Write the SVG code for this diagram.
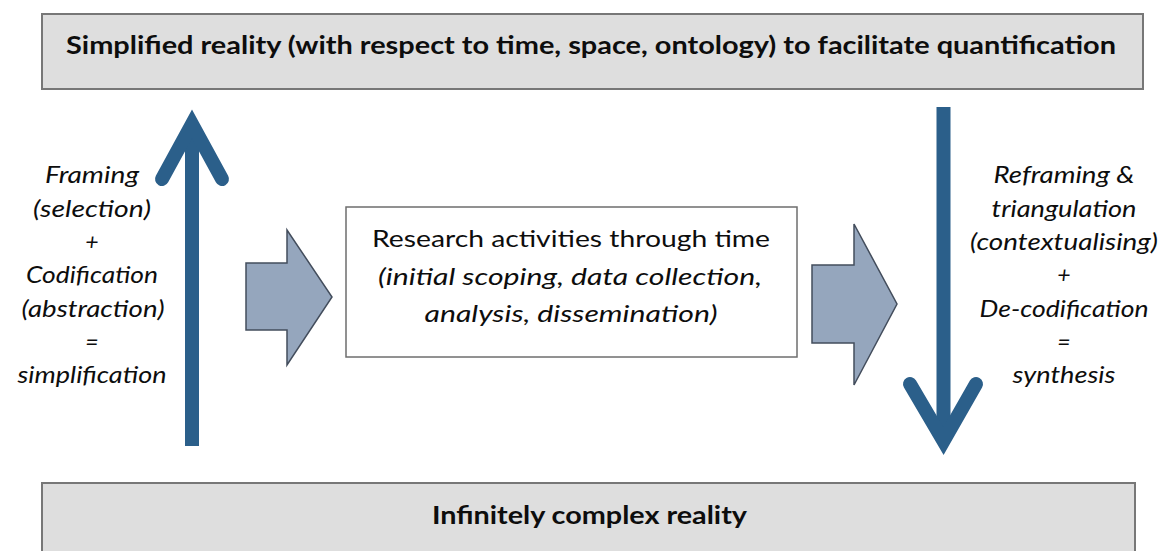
<svg xmlns="http://www.w3.org/2000/svg" width="1162" height="551" viewBox="0 0 1162 551">
  <style>
    .band { fill: #dedede; stroke: #777777; stroke-width: 2; }
    .panel { fill: #ffffff; stroke: #6e6e6e; stroke-width: 1.5; }
    .block { fill: #95a6bd; stroke: #434d5c; stroke-width: 1.5; stroke-linejoin: miter; }
    .shaft { stroke: #2b5f8a; stroke-width: 14; fill: none; stroke-linecap: butt; }
    .head { stroke: #2b5f8a; stroke-width: 14; fill: none; stroke-linecap: round; stroke-linejoin: miter; stroke-miterlimit: 10; }
    text { font-family: Lato, "Liberation Sans", sans-serif; fill: #0d0d0d; text-anchor: middle; }
    .title { font-size: 24px; font-weight: bold; }
    .plain { font-size: 24px; }
    .note { font-size: 23px; font-style: italic; }
  </style>

  <!-- top band -->
  <g id="simplified-reality">
    <rect class="band" x="42" y="14" width="1101" height="75"/>
    <text class="title" x="591" y="54" textLength="1050" lengthAdjust="spacingAndGlyphs">Simplified reality (with respect to time, space, ontology) to facilitate quantification</text>
  </g>

  <!-- bottom band -->
  <g id="complex-reality">
    <rect class="band" x="42" y="483" width="1093" height="80"/>
    <text class="title" x="589.5" y="524" textLength="315" lengthAdjust="spacingAndGlyphs">Infinitely complex reality</text>
  </g>

  <!-- central panel -->
  <g id="research-activities">
    <rect class="panel" x="346" y="207" width="451" height="150"/>
    <text class="plain" x="571" y="247" textLength="398" lengthAdjust="spacingAndGlyphs">Research activities through time</text>
    <text class="note" x="570" y="285" textLength="384" lengthAdjust="spacingAndGlyphs">(initial scoping, data collection,</text>
    <text class="note" x="571" y="322" textLength="293" lengthAdjust="spacingAndGlyphs">analysis, dissemination)</text>
  </g>

  <!-- left caption -->
  <g id="framing-label">
    <text class="note" x="92" y="183" textLength="94" lengthAdjust="spacingAndGlyphs">Framing</text>
    <text class="note" x="92" y="217" textLength="118" lengthAdjust="spacingAndGlyphs">(selection)</text>
    <text class="note" x="92" y="250">+</text>
    <text class="note" x="92" y="283" textLength="132" lengthAdjust="spacingAndGlyphs">Codification</text>
    <text class="note" x="93" y="317" textLength="143" lengthAdjust="spacingAndGlyphs">(abstraction)</text>
    <text class="note" x="92" y="350">=</text>
    <text class="note" x="92" y="383" textLength="149" lengthAdjust="spacingAndGlyphs">simplification</text>
  </g>

  <!-- right caption -->
  <g id="reframing-label">
    <text class="note" x="1064" y="183" textLength="141" lengthAdjust="spacingAndGlyphs">Reframing &amp;</text>
    <text class="note" x="1064" y="217" textLength="145" lengthAdjust="spacingAndGlyphs">triangulation</text>
    <text class="note" x="1064" y="250" textLength="188" lengthAdjust="spacingAndGlyphs">(contextualising)</text>
    <text class="note" x="1064" y="283">+</text>
    <text class="note" x="1064" y="317" textLength="169" lengthAdjust="spacingAndGlyphs">De-codification</text>
    <text class="note" x="1064" y="350">=</text>
    <text class="note" x="1064" y="383" textLength="103" lengthAdjust="spacingAndGlyphs">synthesis</text>
  </g>

  <!-- connectors -->
  <g id="connectors">
    <!-- upward: framing and codification -->
    <line class="shaft" x1="192" y1="446" x2="192" y2="124"/>
    <polyline class="head" points="162,179 192,124 222,179"/>
    <!-- downward: reframing and de-codification -->
    <line class="shaft" x1="943.5" y1="107" x2="943.5" y2="441"/>
    <polyline class="head" points="910,384 943.5,441 976,384"/>
    <!-- block arrows into and out of the panel -->
    <polygon class="block" points="246,263 287,263 287,230 332,297 287,365 287,330 246,330"/>
    <polygon class="block" points="812,265 854,265 854,224 897,304 854,385 854,343 812,343"/>
  </g>
</svg>
